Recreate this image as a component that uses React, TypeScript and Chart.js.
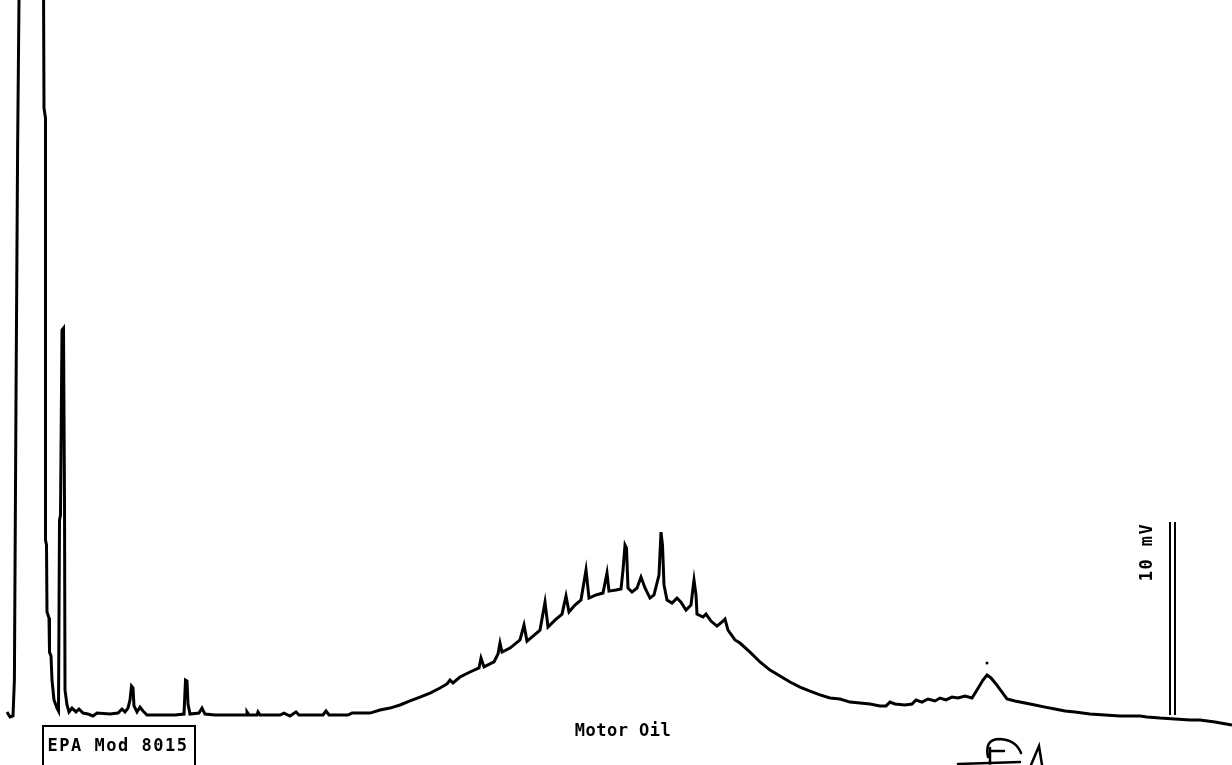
import React, { useEffect, useRef } from "react";
import { Chart, registerables } from "chart.js";

Chart.register(...registerables);

// Retention time (min) and detector response (mV)
const traceTime: number[] = [
  0.175, 0.25, 0.325, 0.36, 0.4, 0.44, 0.475, 0.5, 0.78, 1.06, 1.1, 1.1375, 1.1375, 1.1625, 1.175, 1.225,
  1.2375, 1.275, 1.3, 1.35, 1.425, 1.4625, 1.4875, 1.5125, 1.55, 1.5875, 1.6125, 1.625, 1.675, 1.725,
  1.8, 1.9, 1.975, 2.075, 2.2, 2.325, 2.425, 2.75, 2.95, 3.05, 3.125, 3.2, 3.25, 3.2875, 3.325, 3.35,
  3.425, 3.5, 3.575, 3.675, 4.0, 4.375, 4.6, 4.6375, 4.675, 4.7, 4.75, 4.975, 5.05, 5.125, 5.375, 6.15,
  6.175, 6.225, 6.425, 6.45, 6.5, 7.0, 7.1, 7.25, 7.4, 7.475, 8.075, 8.15, 8.225, 8.7, 8.8, 9.25, 9.5,
  9.75, 10.0, 10.25, 10.5, 10.75, 11.0, 11.175, 11.25, 11.325, 11.5, 11.75, 11.975, 12.025, 12.1, 12.35,
  12.45, 12.5, 12.55, 12.75, 13.0, 13.1, 13.175, 13.325, 13.5, 13.625, 13.7, 13.875, 14.05, 14.15, 14.225,
  14.375, 14.525, 14.65, 14.725, 14.9, 15.075, 15.175, 15.225, 15.4, 15.525, 15.575, 15.625, 15.6625, 15.7,
  15.8, 15.925, 16.025, 16.125, 16.25, 16.35, 16.475, 16.525, 16.5625, 16.6, 16.675, 16.8, 16.925, 17.025,
  17.15, 17.275, 17.325, 17.35, 17.4, 17.425, 17.575, 17.65, 17.775, 17.925, 18.05, 18.125, 18.2, 18.375,
  18.5, 18.75, 19.0, 19.25, 19.5, 19.75, 20.0, 20.25, 20.5, 20.75, 21.0, 21.25, 21.5, 21.75, 22.0, 22.15,
  22.25, 22.375, 22.625, 22.8, 22.9, 23.05, 23.2, 23.375, 23.5, 23.65, 23.8, 23.95, 24.125, 24.3, 24.425,
  24.575, 24.675, 24.775, 24.9, 25.05, 25.175, 25.375, 25.625, 25.875, 26.125, 26.375, 26.625, 26.875,
  27.25, 27.625, 28.0, 28.5, 28.675, 29.0, 29.375, 29.75, 30.0, 30.375, 30.8,
];
const traceMv: number[] = [
  0.16, -0.1, -0.05, 1.81, 16.32, 29.27, 37.05, 47.4, 120.0, 52.6, 31.45, 30.93, 9.07, 8.81, 5.34, 5.03,
  3.26, 3.06, 1.81, 0.78, 0.36, 0.21, 10.1, 10.36, 19.95, 20.05, 11.14, 1.3, 0.52, 0.16,
  0.36, 0.16, 0.31, 0.1, 0.05, -0.05, 0.1, 0.05, 0.1, 0.31, 0.16, 0.36, 0.78, 1.5, 1.4, 0.47,
  0.16, 0.41, 0.21, 0.0, 0.0, 0.0, 0.05, 1.81, 1.76, 0.57, 0.05, 0.1, 0.36, 0.05, 0.0, 0.0,
  0.16, 0.0, 0.0, 0.16, 0.0, 0.0, 0.1, -0.05, 0.16, 0.0, 0.0, 0.21, 0.0, 0.0, 0.1, 0.1, 0.26,
  0.36, 0.52, 0.73, 0.93, 1.14, 1.4, 1.61, 1.81, 1.66, 1.97, 2.23, 2.44, 2.95, 2.49, 2.75,
  3.16, 3.73, 3.26, 3.47, 3.89, 4.66, 3.83, 4.09, 4.4, 5.85, 4.56, 4.92, 5.23, 6.17, 5.34,
  5.7, 5.96, 7.51, 6.06, 6.22, 6.32, 7.36, 6.42, 6.48, 6.53, 7.51, 8.81, 8.65, 6.58,
  6.37, 6.58, 7.15, 6.58, 6.06, 6.22, 7.25, 9.48, 8.81, 6.74, 5.96, 5.8, 6.06, 5.85,
  5.44, 5.7, 6.58, 6.99, 6.22, 5.23, 5.08, 5.23, 4.87, 4.61, 4.82, 4.97, 4.4, 3.89,
  3.73, 3.26, 2.75, 2.33, 2.02, 1.71, 1.45, 1.24, 1.04, 0.88, 0.83, 0.67, 0.62, 0.57, 0.47, 0.47,
  0.67, 0.57, 0.52, 0.57, 0.78, 0.67, 0.83, 0.73, 0.88, 0.78, 0.93, 0.88, 0.98, 0.88, 1.3,
  1.81, 2.07, 1.92, 1.61, 1.19, 0.83, 0.73, 0.62, 0.52, 0.41, 0.31, 0.21, 0.16,
  0.05, 0.0, -0.05, -0.05, -0.1, -0.16, -0.21, -0.26, -0.26, -0.36, -0.52,
];

// 10 mV scale bar (two parallel strokes)
const scaleBarTimes: number[] = [29.25, 29.375];
const scaleBarMv: number[] = [0, 10];

// stray printer dot above the late peak
const strayDot = { x: 24.675, y: 2.69 };

const sampleLabel = "Motor Oil";
const methodLabel = "EPA Mod 8015";
const scaleLabel = "10 mV";

const X_MIN = 0;
const X_MAX = 30.8;
const Y_MIN = -2.59;
const Y_MAX = 37.05;

const FONT = "bold 17px 'DejaVu Sans Mono', monospace";

const annotationPlugin = {
  id: "chromAnnotations",
  afterDraw(chart: any) {
    const ctx: CanvasRenderingContext2D = chart.ctx;
    ctx.save();
    ctx.fillStyle = "#000";
    ctx.strokeStyle = "#000";
    ctx.font = FONT;
    ctx.textAlign = "center";
    ctx.textBaseline = "middle";
    try { (ctx as any).letterSpacing = "0.5px"; } catch (e) {}

    // sample label
    ctx.fillText(sampleLabel, 623, 732);

    // method box
    ctx.lineWidth = 2;
    ctx.beginPath();
    ctx.moveTo(43, 768);
    ctx.lineTo(43, 726);
    ctx.lineTo(195, 726);
    ctx.lineTo(195, 768);
    ctx.stroke();
    try { (ctx as any).letterSpacing = "1.5px"; } catch (e) {}
    ctx.fillText(methodLabel, 118, 747);

    // scale label (rotated)
    try { (ctx as any).letterSpacing = "1.5px"; } catch (e) {}
    ctx.save();
    ctx.translate(1148, 552);
    ctx.rotate(-Math.PI / 2);
    ctx.fillText(scaleLabel, 0, 0);
    ctx.restore();

    // handwritten initials
    try { (ctx as any).letterSpacing = "0px"; } catch (e) {}
    ctx.lineWidth = 2.5;
    ctx.lineCap = "round";
    ctx.beginPath();
    ctx.moveTo(988, 757);
    ctx.quadraticCurveTo(984, 739, 1000, 739);
    ctx.quadraticCurveTo(1016, 740, 1021, 753);
    ctx.moveTo(958, 764);
    ctx.lineTo(1020, 762);
    ctx.moveTo(990, 748);
    ctx.lineTo(990, 765);
    ctx.moveTo(992, 751);
    ctx.lineTo(1004, 751);
    ctx.moveTo(1031, 765);
    ctx.lineTo(1039, 746);
    ctx.lineTo(1042, 765);
    ctx.stroke();
    ctx.restore();
  },
};

export default function App() {
  const canvasRef = useRef<HTMLCanvasElement | null>(null);

  useEffect(() => {
    if (!canvasRef.current) return;
    const trace = traceTime.map((t, i) => ({ x: t, y: traceMv[i] }));
    const bars = scaleBarTimes.map((t) => scaleBarMv.map((v) => ({ x: t, y: v })));
    const chart = new Chart(canvasRef.current, {
      type: "line",
      data: {
        datasets: [
          {
            label: "FID signal",
            data: trace,
            borderColor: "#000",
            borderWidth: 3,
            pointRadius: 0,
            tension: 0,
            fill: false,
          },
          ...bars.map((b, i) => ({
            label: "scale" + i,
            data: b,
            borderColor: "#000",
            borderWidth: 2,
            pointRadius: 0,
            fill: false,
          })),
          {
            label: "dot",
            data: [strayDot],
            showLine: false,
            pointRadius: 1.5,
            pointBackgroundColor: "#000",
            pointBorderWidth: 0,
          },
        ],
      },
      options: {
        animation: false,
        responsive: true,
        maintainAspectRatio: false,
        layout: { padding: 0, autoPadding: false },
        plugins: { legend: { display: false }, tooltip: { enabled: false }, title: { display: false } },
        scales: {
          x: { type: "linear", min: X_MIN, max: X_MAX, display: false },
          y: { type: "linear", min: Y_MIN, max: Y_MAX, display: false },
        },
      },
      plugins: [annotationPlugin],
    } as any);
    return () => chart.destroy();
  }, []);

  return (
    <div style={{ position: "absolute", left: 0, top: 0, width: 1232, height: 765, background: "#fff" }}>
      <canvas ref={canvasRef} />
    </div>
  );
}
